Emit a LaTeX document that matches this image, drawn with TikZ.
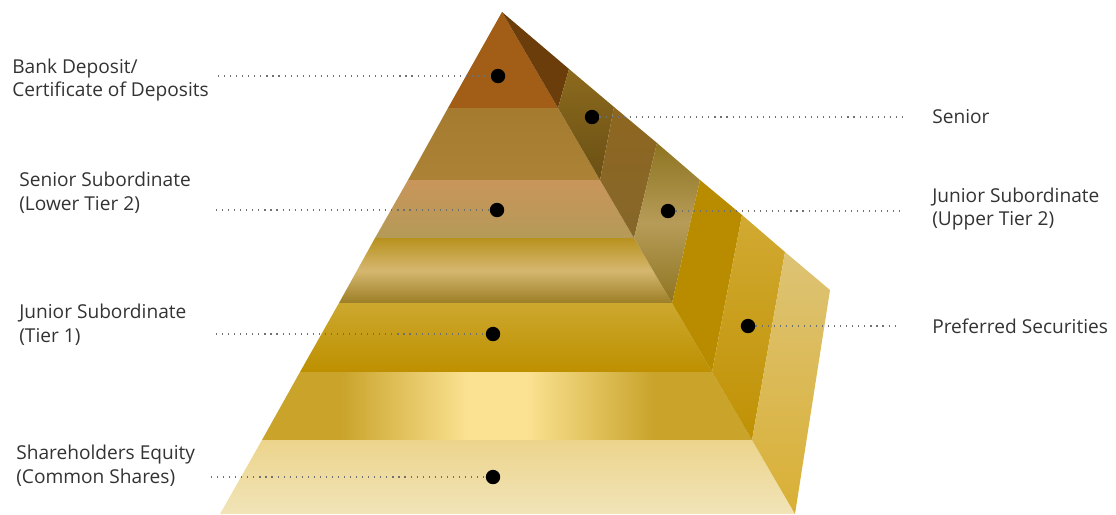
\documentclass[tikz,border=0pt]{standalone}
\usepackage{fontspec}
\setmainfont{Open Sans}
\definecolor{txtgray}{HTML}{333333}
\definecolor{leadgray}{HTML}{707070}
\definecolor{bandA}{HTML}{A25D16}
\definecolor{sideA}{HTML}{6A3D0A}
\definecolor{bandBtop}{HTML}{A57B30}
\definecolor{bandBbot}{HTML}{AC8236}
\definecolor{sideBtop}{HTML}{8C6A1E}
\definecolor{sideBbot}{HTML}{6A5014}
\definecolor{sideCtop}{HTML}{8E6620}
\definecolor{sideCbot}{HTML}{86672A}
\definecolor{bandCtop}{HTML}{C9955A}
\definecolor{bandCbot}{HTML}{B49A58}
\definecolor{sideDdark}{HTML}{8E7420}
\definecolor{sideDmid}{HTML}{B69C58}
\definecolor{bandDtop}{HTML}{B8921E}
\definecolor{bandDmid}{HTML}{D5B770}
\definecolor{bandDbot}{HTML}{9C7E26}
\definecolor{bandEtop}{HTML}{CCA82E}
\definecolor{bandEbot}{HTML}{BE9000}
\definecolor{sideE}{HTML}{B98C00}
\definecolor{bandFedge}{HTML}{C9A32A}
\definecolor{bandFmid}{HTML}{FBE292}
\definecolor{sideFtop}{HTML}{D2AA32}
\definecolor{sideFbot}{HTML}{BF9104}
\definecolor{bandGtop}{HTML}{ECD48C}
\definecolor{bandGbot}{HTML}{F1E4B8}
\definecolor{sideGtop}{HTML}{DDC375}
\definecolor{sideGbot}{HTML}{D9B035}
\pgfdeclarehorizontalshading{bandglow}{100bp}{color(0bp)=(bandFedge); color(33bp)=(bandFedge);
  color(46bp)=(bandFmid); color(52bp)=(bandFmid); color(65bp)=(bandFedge); color(100bp)=(bandFedge)}

\begin{document}
\begin{tikzpicture}[x=0.025cm,y=-0.025cm,
  lbl/.style={anchor=west,align=left,text=txtgray,inner sep=0pt,font=\fontsize{13.6}{17}\selectfont},
  dot/.style={circle,fill=black,inner sep=0pt,minimum size=0.36cm},
  leader/.style={draw=leadgray,line width=0.8pt,dash pattern=on 0.8pt off 3.5pt}]
\useasboundingbox (0,0) rectangle (1116,514);

% front face
\fill[bandA] (502,12) -- (448,108) -- (558,108) -- cycle;
\shade[top color=bandBtop,bottom color=bandBbot] (448,108) -- (408,180) -- (600,180) -- (558,108) -- cycle;
\shade[top color=bandCtop,bottom color=bandCbot] (408,180) -- (375,238) -- (634,238) -- (600,180) -- cycle;
\shade[top color=bandDtop,bottom color=bandDbot,middle color=bandDmid] (375,238) -- (339,303) -- (672,303) -- (634,238) -- cycle;
\shade[top color=bandEtop,bottom color=bandEbot] (339,303) -- (300,372) -- (712,372) -- (672,303) -- cycle;
\shade[shading=bandglow] (300,372) -- (262,440) -- (752,440) -- (712,372) -- cycle;
\shade[top color=bandGtop,bottom color=bandGbot] (262,440) -- (220,514) -- (795,514) -- (752,440) -- cycle;

% side face
\fill[sideA] (502,12) -- (569,69) -- (558,108) -- cycle;
\shade[top color=sideBtop,bottom color=sideBbot] (569,69) -- (614,107) -- (600,180) -- (558,108) -- cycle;
\shade[top color=sideCtop,bottom color=sideCbot] (614,107) -- (657,143) -- (634,238) -- (600,180) -- cycle;
\shade[top color=sideDdark,bottom color=sideDdark,middle color=sideDmid] (657,143) -- (700,180) -- (672,303) -- (634,238) -- cycle;
\fill[sideE] (700,180) -- (742,215) -- (712,372) -- (672,303) -- cycle;
\shade[top color=sideFtop,bottom color=sideFbot] (742,215) -- (785,252) -- (752,440) -- (712,372) -- cycle;
\shade[top color=sideGtop,bottom color=sideGbot] (785,252) -- (830,290) -- (795,514) -- (752,440) -- cycle;

\node[lbl] (bank) at (12,80) {Bank Deposit/\\Certificate of Deposits};
\node[lbl] (lowtwo) at (19,193) {Senior Subordinate\\(Lower Tier 2)};
\node[lbl] (tierone) at (19,325) {Junior Subordinate\\(Tier 1)};
\node[lbl] (equity) at (16,466) {Shareholders Equity\\(Common Shares)};
\node[lbl] (senior) at (932,117) {Senior};
\node[lbl] (uptwo) at (932,209) {Junior Subordinate\\(Upper Tier 2)};
\node[lbl] (pref) at (932,326) {Preferred Securities};

\node[dot] (dbank) at (498,76) {};
\node[dot] (dlowtwo) at (497,210) {};
\node[dot] (dtierone) at (493,334) {};
\node[dot] (dequity) at (493,477) {};
\node[dot] (dsenior) at (592,117) {};
\node[dot] (duptwo) at (668,211) {};
\node[dot] (dpref) at (748,326) {};

\coordinate (ebank) at (218,76);
\coordinate (elowtwo) at (216,210);
\coordinate (etierone) at (216,334);
\coordinate (eequity) at (211,477);
\coordinate (esenior) at (905,117);
\coordinate (euptwo) at (905,211);
\coordinate (epref) at (897,326);

\draw[leader] (ebank) -- (dbank);
\draw[leader] (elowtwo) -- (dlowtwo);
\draw[leader] (etierone) -- (dtierone);
\draw[leader] (eequity) -- (dequity);
\draw[leader] (dsenior) -- (esenior);
\draw[leader] (duptwo) -- (euptwo);
\draw[leader] (dpref) -- (epref);
\end{tikzpicture}
\end{document}
